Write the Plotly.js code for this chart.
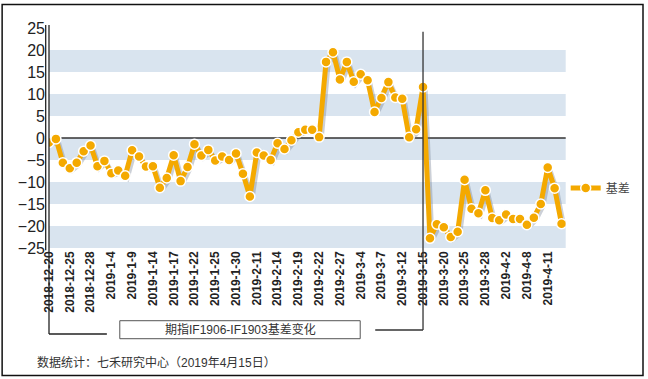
<!DOCTYPE html>
<html>
<head>
<meta charset="utf-8">
<script src="https://cdn.plot.ly/plotly-3.0.1.min.js"></script>
<style>html,body{margin:0;padding:0;background:#fff;}#chart{width:648px;height:379px;}</style>
</head>
<body>
<div id="chart"></div>
<script>
// Trading days (categories)
const dates = [
  "2018-12-20","2018-12-21","2018-12-24","2018-12-25","2018-12-26","2018-12-27","2018-12-28",
  "2019-1-2","2019-1-3","2019-1-4","2019-1-7","2019-1-8","2019-1-9","2019-1-10","2019-1-11",
  "2019-1-14","2019-1-15","2019-1-16","2019-1-17","2019-1-18","2019-1-21","2019-1-22","2019-1-23",
  "2019-1-24","2019-1-25","2019-1-28","2019-1-29","2019-1-30","2019-1-31","2019-2-1",
  "2019-2-11","2019-2-12","2019-2-13","2019-2-14","2019-2-15","2019-2-18","2019-2-19","2019-2-20",
  "2019-2-21","2019-2-22","2019-2-25","2019-2-26","2019-2-27","2019-2-28","2019-3-1",
  "2019-3-4","2019-3-5","2019-3-6","2019-3-7","2019-3-8","2019-3-11","2019-3-12","2019-3-13",
  "2019-3-14","2019-3-15","2019-3-18","2019-3-19","2019-3-20","2019-3-21","2019-3-22",
  "2019-3-25","2019-3-26","2019-3-27","2019-3-28","2019-3-29","2019-4-1","2019-4-2","2019-4-3",
  "2019-4-4","2019-4-8","2019-4-9","2019-4-10","2019-4-11","2019-4-12","2019-4-15"
];
// 基差 values
const basis = [
  -1.0,-0.2,-5.6,-6.9,-5.6,-3.0,-1.7,
  -6.4,-5.2,-8.0,-7.4,-8.6,-2.8,-4.2,-6.5,
  -6.4,-11.3,-9.1,-3.9,-9.8,-6.6,-1.4,-4.0,
  -2.7,-5.1,-4.2,-5.0,-3.5,-8.1,-13.3,
  -3.3,-4.0,-5.0,-1.2,-2.5,-0.5,1.3,1.9,
  1.9,0.2,17.3,19.5,13.3,17.3,12.8,
  14.5,13.1,5.9,9.1,12.7,9.2,8.9,0.15,
  2.0,11.6,-22.8,-19.6,-20.3,-22.5,-21.3,
  -9.5,-16.1,-17.1,-11.9,-18.2,-18.7,-17.4,-18.4,
  -18.4,-19.7,-18.1,-15.0,-6.7,-11.4,-19.5
];
const tickLabels = [
  "2018-12-20","2018-12-25","2018-12-28","2019-1-4","2019-1-9","2019-1-14","2019-1-17",
  "2019-1-22","2019-1-25","2019-1-30","2019-2-11","2019-2-14","2019-2-19","2019-2-22",
  "2019-2-27","2019-3-4","2019-3-7","2019-3-12","2019-3-15","2019-3-20","2019-3-25",
  "2019-3-28","2019-4-2","2019-4-8","2019-4-11"
];
const yTicks = [-25,-20,-15,-10,-5,0,5,10,15,20,25];
const bandRanges = [[15,20],[5,10],[-5,0],[-15,-10],[-25,-20]];
const seriesName = "基差";
const markerLine = "2019-3-15";

const orange = "#f4a900";
const xr = [0, 74.6];

const traces = [
  { // invisible trace on base axes so the category axis knows its categories
    x: dates, y: basis, xaxis: 'x', yaxis: 'y', type: 'scatter', mode: 'lines',
    line: {color: 'rgba(0,0,0,0)', width: 0}, showlegend: false, hoverinfo: 'skip'
  },
  { // shadow
    x: dates, y: basis, xaxis: 'x2', yaxis: 'y2', type: 'scatter', mode: 'lines',
    line: {color: 'rgba(110,120,140,0.35)', width: 5}, showlegend: false, hoverinfo: 'skip'
  },
  {
    x: dates, y: basis, xaxis: 'x3', yaxis: 'y3', type: 'scatter', mode: 'lines+markers',
    name: seriesName,
    line: {color: orange, width: 5},
    marker: {color: orange, size: 10, line: {color: '#ffffff', width: 1.5}}
  }
];

const shapes = [];
bandRanges.forEach(b => shapes.push({type:'rect', xref:'paper', yref:'y', x0:0, x1:1, y0:b[0], y1:b[1],
  fillcolor:'#d9e4ef', line:{width:0}, layer:'below'}));
// zero line
shapes.push({type:'line', xref:'paper', yref:'y', x0:0, x1:1, y0:0, y1:0, line:{color:'#333', width:1.3}, layer:'below'});
// left double axis line
shapes.push({type:'line', xref:'paper', yref:'paper', x0:-0.0064, x1:-0.0064, y0:-0.01, y1:1.0136, line:{color:'#222', width:1.3}});
shapes.push({type:'line', xref:'paper', yref:'paper', x0:0, x1:0, y0:-0.391, y1:1.0136, line:{color:'#222', width:1.3}});
shapes.push({type:'line', xref:'paper', yref:'paper', x0:0, x1:0.112, y0:-0.391, y1:-0.391, line:{color:'#222', width:1.3}});
// vertical line at 2019-3-15
const vIdx = dates.indexOf(markerLine);
shapes.push({type:'line', xref:'x', yref:'paper', x0:vIdx, x1:vIdx, y0:-0.3727, y1:0.983, line:{color:'#333', width:1.3}});
shapes.push({type:'line', xref:'x', yref:'paper', x0:47.1, x1:vIdx, y0:-0.3727, y1:-0.3727, line:{color:'#333', width:1.3}});
// caption box
shapes.push({type:'rect', xref:'paper', yref:'paper', x0:0.137, x1:0.6023, y0:-0.4123, y1:-0.3305, line:{color:'#555', width:1}, fillcolor:'rgba(0,0,0,0)'});
// outer border
shapes.push({type:'rect', xref:'paper', yref:'paper', x0:-0.0907, x1:1.1496, y0:-0.5795, y1:1.1068, line:{color:'#111', width:1.5}, fillcolor:'rgba(0,0,0,0)'});

const hiddenX = {type:'category', range:xr, visible:false, showgrid:false, zeroline:false};
const hiddenY = {range:[-25,25], visible:false, showgrid:false, zeroline:false};

const layout = {
  width: 648, height: 379,
  margin: {l:49, r:81, t:28, b:131},
  paper_bgcolor: '#fff', plot_bgcolor: 'rgba(0,0,0,0)',
  font: {family: 'Liberation Sans, Arial, sans-serif', color:'#222'},
  xaxis: {
    type:'category', range: xr, showgrid:false, zeroline:false, showline:false, automargin:false,
    tickmode:'array', tickvals: tickLabels, ticktext: tickLabels, tickangle:-90,
    ticks:'', tickfont:{size:12, color:'#222', weight:'bold'}
  },
  yaxis: {
    range:[-25,25], tickmode:'array', tickvals: yTicks, showgrid:false, zeroline:false, showline:false,
    automargin:false, ticks:'', ticklabelstandoff: 3, tickfont:{size:16, color:'#222'}
  },
  xaxis2: Object.assign({}, hiddenX, {overlaying:'x', range:[xr[0]-0.3, xr[1]-0.3]}),
  yaxis2: Object.assign({}, hiddenY, {overlaying:'y', range:[-24.5, 25.5]}),
  xaxis3: Object.assign({}, hiddenX, {overlaying:'x'}),
  yaxis3: Object.assign({}, hiddenY, {overlaying:'y'}),
  showlegend: true,
  legend: {xref:'container', yref:'container', x:0.873, y:0.504, xanchor:'left', yanchor:'middle',
    bgcolor:'rgba(0,0,0,0)', font:{size:12, color:'#444', family:'Noto Sans CJK SC, sans-serif'}},
  shapes: shapes,
  annotations: [
    {xref:'paper', yref:'paper', x:0.3697, y:-0.3727, xanchor:'center', yanchor:'middle', showarrow:false,
     text:'期指IF1906-IF1903基差变化', font:{size:12, color:'#333', family:'Liberation Sans, Noto Sans CJK SC, sans-serif'}},
    {xref:'paper', yref:'paper', x:-0.027, y:-0.5227, xanchor:'left', yanchor:'middle', showarrow:false,
     text:'数据统计：七禾研究中心（2019年4月15日）', font:{size:12, color:'#333', family:'Liberation Sans, Noto Sans CJK SC, sans-serif'}}
  ]
};

Plotly.newPlot('chart', traces, layout, {displayModeBar:false, staticPlot:true});
</script>
</body>
</html>
